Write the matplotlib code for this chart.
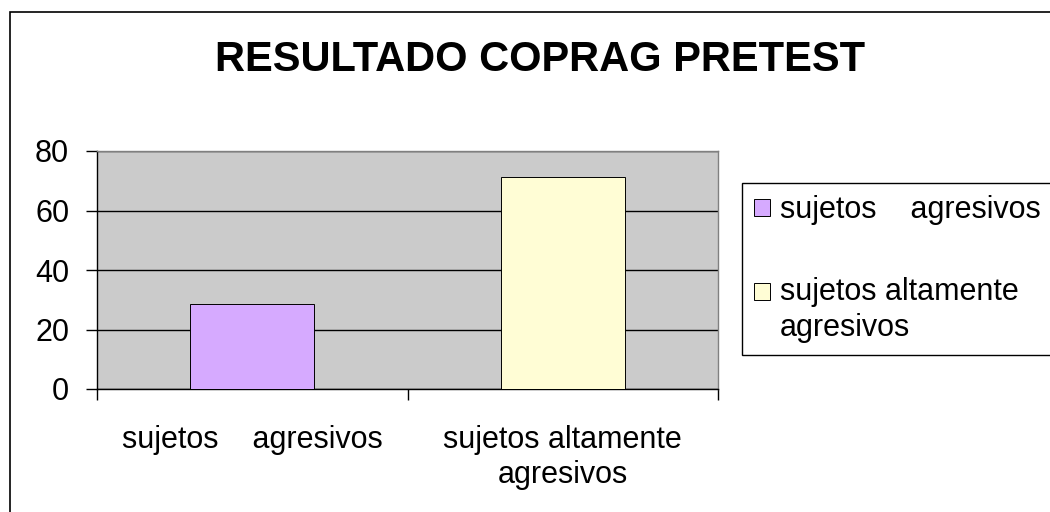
import matplotlib
matplotlib.use("Agg")
import matplotlib.pyplot as plt
from matplotlib.patches import Patch, Rectangle

plt.rcParams['font.family'] = ['Liberation Sans', 'DejaVu Sans']

title = "RESULTADO COPRAG PRETEST"
categories = ["sujetos    agresivos", "sujetos altamente\nagresivos"]
values = [28.6, 71.4]
colors = ["#D6AAFF", "#FFFDD5"]
yticks = [0, 20, 40, 60, 80]

W, H = 1050, 512
fig = plt.figure(figsize=(W / 100, H / 100), dpi=100)
fig.patch.set_facecolor("white")

# outer chart border (right/bottom cut off in reference)
fig.add_artist(Rectangle((10 / W, -0.1), 1.2, (H - 12) / H + 0.1,
                         transform=fig.transFigure, fill=False,
                         edgecolor="black", linewidth=1.2))

ax = fig.add_axes([97 / W, (H - 389) / H, 621 / W, 238 / H])
ax.set_facecolor("#CBCBCB")

x = list(range(len(categories)))
bars = ax.bar(x, values, width=0.4, color=colors, edgecolor="black",
              linewidth=0.7, zorder=3)

ax.set_xlim(-0.5, len(categories) - 0.5)
ax.set_ylim(0, 80)
ax.set_yticks(yticks)
ax.set_yticklabels([str(v) for v in yticks], fontsize=22)
ax.yaxis.grid(True, color="black", linewidth=1.0, zorder=1)
ax.set_axisbelow(True)

ax.set_xticks(x)
ax.set_xticklabels(categories, fontsize=22, linespacing=1.2)
ax.tick_params(axis="x", which="major", length=0, pad=26)
ax.set_xticks([i - 0.5 for i in range(len(categories) + 1)], minor=True)
ax.tick_params(axis="x", which="minor", length=8, width=1, direction="out", color="black")
ax.tick_params(axis="y", length=8, width=1, direction="out", pad=12, color="black")

for side in ["top", "right"]:
    ax.spines[side].set_color("#808080")
    ax.spines[side].set_linewidth(1.0)
for side in ["left", "bottom"]:
    ax.spines[side].set_color("black")
    ax.spines[side].set_linewidth(1.0)

fig.text(540 / W, 1 - 60 / H, title, ha="center", va="center",
         fontsize=30, fontweight="bold")

handles = [Patch(facecolor=c, edgecolor="black", linewidth=0.7) for c in colors]
leg = fig.legend(handles, categories, loc="upper left",
                 bbox_to_anchor=(742 / W, 1 - 183 / H), borderaxespad=0,
                 fontsize=22, frameon=True, fancybox=False, shadow=False,
                 edgecolor="black", framealpha=1, handlelength=0.5,
                 handleheight=0.5, handletextpad=0.35, borderpad=0.4,
                 labelspacing=1.7)
leg.get_frame().set_linewidth(1.0)
for t in leg.get_texts():
    t.set_linespacing(1.25)
# align the handle of the two-line entry with its first line
h2 = leg.legend_handles[1]
h2.set_y(h2.get_y() + 14)

fig.savefig("out.png", dpi=100)
